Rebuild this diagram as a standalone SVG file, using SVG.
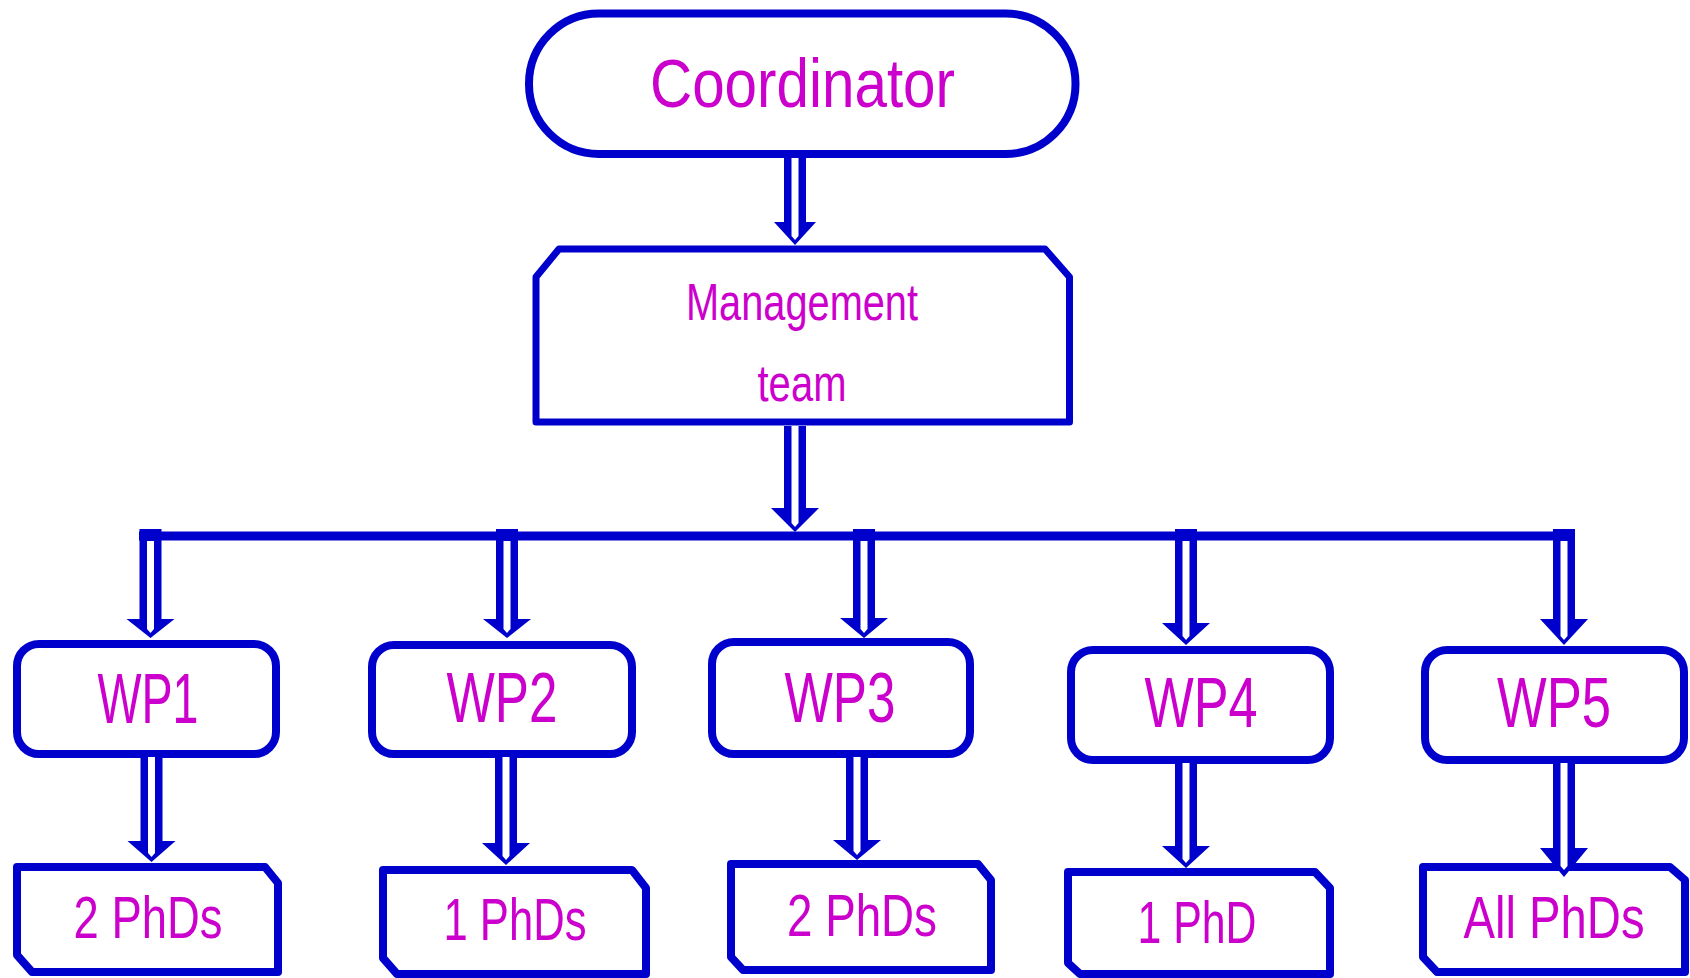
<svg xmlns="http://www.w3.org/2000/svg" width="1690" height="978" viewBox="0 0 1690 978">
<style>
.box{fill:#ffffff;stroke:#0000CC;stroke-width:8;stroke-linejoin:round}
.mgmt{fill:#ffffff;stroke:#0000CC;stroke-width:7;stroke-linejoin:round}
.ao{fill:#0000CC;stroke:none}
.ai{fill:#ffffff;stroke:none}
.bus{stroke:#0000CC;stroke-width:9;fill:none}
.t{font-family:"Liberation Sans","DejaVu Sans",Arial,sans-serif;fill:#CC00CC;text-anchor:middle}
</style>
<rect width="1690" height="978" fill="#ffffff"/>
<g id="coordinator">
<rect class="box" x="529" y="13.5" width="546.5" height="140.5" rx="70" ry="70"/>
<text class="t" x="802.5" y="107" font-size="68" textLength="305" lengthAdjust="spacingAndGlyphs">Coordinator</text>
</g>
<g id="management">
<polygon class="mgmt" points="536,277 559,249 1045,249 1069.5,277 1069.5,422 536,422"/>
<text class="t" x="802" y="320" font-size="52" textLength="232" lengthAdjust="spacingAndGlyphs">Management</text>
<text class="t" x="802" y="401" font-size="52" textLength="89" lengthAdjust="spacingAndGlyphs">team</text>
</g>
<g id="wp1">
<rect class="box" x="17" y="644" width="259" height="110" rx="22"/>
<text class="t" x="148" y="723" font-size="70" textLength="101" lengthAdjust="spacingAndGlyphs">WP1</text>
</g>
<g id="wp2">
<rect class="box" x="372" y="645" width="260" height="109" rx="22"/>
<text class="t" x="502" y="722" font-size="70" textLength="111" lengthAdjust="spacingAndGlyphs">WP2</text>
</g>
<g id="wp3">
<rect class="box" x="712" y="642" width="258" height="112" rx="22"/>
<text class="t" x="840" y="722" font-size="70" textLength="111" lengthAdjust="spacingAndGlyphs">WP3</text>
</g>
<g id="wp4">
<rect class="box" x="1071" y="650" width="259" height="110" rx="22"/>
<text class="t" x="1201" y="727" font-size="70" textLength="113" lengthAdjust="spacingAndGlyphs">WP4</text>
</g>
<g id="wp5">
<rect class="box" x="1425" y="650" width="259" height="110" rx="22"/>
<text class="t" x="1554" y="727" font-size="70" textLength="114" lengthAdjust="spacingAndGlyphs">WP5</text>
</g>
<g id="phd1">
<polygon class="box" points="17,867 265,867 278,883 278,972 32,972 17,955"/>
<text class="t" x="148" y="938" font-size="60" textLength="149" lengthAdjust="spacingAndGlyphs">2 PhDs</text>
</g>
<g id="phd2">
<polygon class="box" points="383,870 632,870 646,888 646,974 397,974 383,958"/>
<text class="t" x="515" y="940" font-size="60" textLength="143" lengthAdjust="spacingAndGlyphs">1 PhDs</text>
</g>
<g id="phd3">
<polygon class="box" points="731,864 978,864 991,880 991,970 743,970 731,957"/>
<text class="t" x="862" y="936" font-size="60" textLength="150" lengthAdjust="spacingAndGlyphs">2 PhDs</text>
</g>
<g id="phd4">
<polygon class="box" points="1068,872 1315,872 1330,888 1330,974 1080,974 1068,963"/>
<text class="t" x="1197" y="943" font-size="60" textLength="119" lengthAdjust="spacingAndGlyphs">1 PhD</text>
</g>
<g id="phd5">
<polygon class="box" points="1423,867 1670,867 1685,880 1685,972 1437,972 1423,957"/>
<text class="t" x="1554" y="938" font-size="60" textLength="181" lengthAdjust="spacingAndGlyphs">All PhDs</text>
</g>
<g id="connectors">
<line class="bus" x1="139" y1="536" x2="1575" y2="536"/>
<!-- Coordinator -> Management -->
<path class="ao" d="M784,158 V222 H774 L795,245 L816,222 H806 V158 Z"/>
<path class="ai" d="M791.5,158 V236 L795,240 L798.5,236 V158 Z"/>
<!-- Management -> bus -->
<path class="ao" d="M784,426 V508 H771 L795,532 L819,508 H806 V426 Z"/>
<path class="ai" d="M791.5,426 V523 L795,527 L798.5,523 V426 Z"/>
<!-- bus -> WP1..WP5 -->
<path class="ao" d="M139.5,529 V619 H126.5 L150.5,638 L174.5,619 H161.5 V529 Z"/>
<path class="ai" d="M147,541 V629 L150.5,633 L154,629 V541 Z"/>
<path class="ao" d="M496,529 V619 H483 L507,638 L531,619 H518 V529 Z"/>
<path class="ai" d="M503.5,541 V629 L507,633 L510.5,629 V541 Z"/>
<path class="ao" d="M853,529 V618 H840 L864,638 L888,618 H875 V529 Z"/>
<path class="ai" d="M860.5,541 V629 L864,633 L867.5,629 V541 Z"/>
<path class="ao" d="M1175,529 V623 H1162 L1186,645 L1210,623 H1197 V529 Z"/>
<path class="ai" d="M1182.5,541 V636 L1186,640 L1189.5,636 V541 Z"/>
<path class="ao" d="M1553,529 V619 H1540 L1564,645 L1588,619 H1575 V529 Z"/>
<path class="ai" d="M1560.5,541 V636 L1564,640 L1567.5,636 V541 Z"/>
<!-- WP -> PhDs -->
<path class="ao" d="M140.5,757 V841 H127.5 L151.5,862 L175.5,841 H162.5 V757 Z"/>
<path class="ai" d="M148,757 V853 L151.5,857 L155,853 V757 Z"/>
<path class="ao" d="M495,757 V843 H482 L506,865 L530,843 H517 V757 Z"/>
<path class="ai" d="M502.5,757 V856 L506,860 L509.5,856 V757 Z"/>
<path class="ao" d="M846,757 V840 H833 L857,860 L881,840 H868 V757 Z"/>
<path class="ai" d="M853.5,757 V851 L857,855 L860.5,851 V757 Z"/>
<path class="ao" d="M1175,763 V846 H1162 L1186,868 L1210,846 H1197 V763 Z"/>
<path class="ai" d="M1182.5,763 V859 L1186,863 L1189.5,859 V763 Z"/>
<path class="ao" d="M1553,763 V848 H1540 L1564,877 L1588,848 H1575 V763 Z"/>
<path class="ai" d="M1560.5,763 V866 L1564,870 L1567.5,866 V763 Z"/>
</g>
</svg>
